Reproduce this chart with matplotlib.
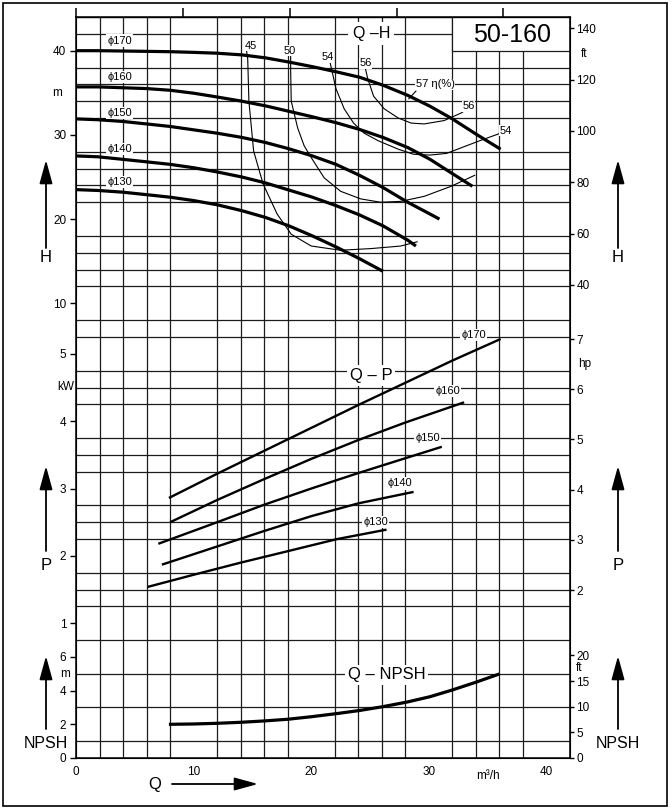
import numpy as np
import matplotlib
matplotlib.use('Agg')
import matplotlib.pyplot as plt
from matplotlib.patches import Rectangle, FancyArrowPatch

plt.rcParams['font.family'] = ['Liberation Sans', 'DejaVu Sans']

W, HT = 672, 811

# ---- data (Q in m3/h) ----
diameters = ['170', '160', '150', '140', '130']

# Q-H curves, H in m
qh_q = {
    '170': [0, 1.85, 3.95, 6.0, 8.0, 10.0, 12.0, 14.1, 16.1, 18.1, 20.1, 22.1, 24.1, 26.1, 28.2, 30.1, 32.0, 34.0, 36.1],
    '160': [0, 1.85, 3.95, 6.0, 8.0, 10.0, 12.0, 14.1, 16.1, 18.1, 20.1, 22.1, 24.1, 26.1, 28.2, 30.1, 32.0, 33.7],
    '150': [0, 1.85, 3.95, 6.0, 8.0, 10.0, 12.0, 14.1, 16.1, 18.1, 20.1, 22.1, 24.1, 26.1, 28.2, 30.1, 30.9],
    '140': [0, 1.85, 3.95, 6.0, 8.0, 10.0, 12.0, 14.1, 16.1, 18.1, 20.1, 22.1, 24.1, 26.1, 28.2, 28.9],
    '130': [0, 1.85, 3.95, 6.0, 8.0, 10.0, 12.0, 14.1, 16.1, 18.1, 20.1, 22.1, 24.1, 26.1],
}
qh_h = {
    '170': [40.0, 40.0, 39.96, 39.92, 39.88, 39.8, 39.7, 39.5, 39.15, 38.65, 38.1, 37.5, 36.85, 35.9, 34.7, 33.4, 31.9, 30.1, 28.3],
    '160': [35.7, 35.7, 35.6, 35.5, 35.3, 34.95, 34.5, 34.0, 33.45, 32.8, 32.15, 31.45, 30.65, 29.7, 28.5, 27.1, 25.4, 23.9],
    '150': [31.9, 31.8, 31.6, 31.3, 31.0, 30.6, 30.2, 29.7, 29.1, 28.35, 27.5, 26.5, 25.2, 23.75, 22.0, 20.6, 20.0],
    '140': [27.5, 27.4, 27.1, 26.8, 26.5, 26.1, 25.6, 25.0, 24.3, 23.45, 22.6, 21.6, 20.5, 19.2, 17.5, 16.8],
    '130': [23.5, 23.4, 23.2, 22.9, 22.6, 22.2, 21.7, 21.0, 20.2, 19.2, 18.0, 16.7, 15.3, 13.8],
}

# iso-efficiency lines (Q, H)
eff_45_q = [14.5, 14.6, 14.7, 15.1, 15.9, 17.1, 18.3, 20.0, 22.5, 25.1, 27.6, 29.0]
eff_45_h = [40.0, 39.0, 34.0, 28.1, 24.2, 20.6, 18.2, 16.8, 16.3, 16.5, 16.8, 17.3]
eff_50_q = [18.25, 18.25, 18.3, 18.85, 19.4, 20.0, 21.1, 22.5, 24.2, 25.9, 27.6, 29.6, 31.9, 33.9]
eff_50_h = [39.4, 37.6, 34.0, 30.8, 28.7, 27.3, 24.9, 23.3, 22.4, 22.0, 22.1, 22.7, 23.9, 25.2]
eff_54_q = [21.6, 22.1, 22.8, 23.6, 24.5, 25.7, 27.4, 28.7, 30.1, 31.5, 33.0, 34.5, 36.1]
eff_54_h = [38.6, 35.5, 33.1, 31.4, 30.2, 29.3, 28.3, 27.7, 27.6, 27.8, 28.6, 29.4, 30.2]
eff_56_q = [24.6, 24.8, 25.3, 26.2, 27.4, 28.5, 29.6, 31.3, 32.75, 33.4]
eff_56_h = [37.9, 36.7, 34.6, 33.1, 32.0, 31.4, 31.3, 31.7, 32.6, 33.2]

# Q-P curves, P in kW
qp_q = {
    '170': [7.9, 12, 16, 20, 24, 28, 32, 36.1],
    '160': [8.0, 12, 16, 20, 24, 28, 33.0],
    '150': [7.0, 12, 16, 20, 24, 28, 31.1],
    '140': [7.3, 12, 16, 20, 24, 28.7],
    '130': [6.1, 10, 14, 18, 22.2, 26.4],
}
qp_p = {
    '170': [2.86, 3.22, 3.56, 3.90, 4.24, 4.57, 4.90, 5.22],
    '160': [2.50, 2.83, 3.14, 3.44, 3.72, 3.98, 4.28],
    '150': [2.18, 2.50, 2.76, 3.00, 3.23, 3.45, 3.62],
    '140': [1.87, 2.14, 2.37, 2.59, 2.78, 2.95],
    '130': [1.54, 1.72, 1.90, 2.07, 2.25, 2.39],
}

# Q-NPSH, NPSH in m
npsh_q = [7.9, 10, 12, 14, 16, 18, 20, 22.2, 24.1, 26.1, 28.2, 30.1, 32.0, 34.0, 36.0]
npsh_m = [2.0, 2.02, 2.06, 2.12, 2.2, 2.3, 2.45, 2.64, 2.82, 3.05, 3.33, 3.64, 4.04, 4.5, 4.99]

# axis tick values
h_ticks = [40, 30, 20, 10]
p_ticks = [5, 4, 3, 2, 1]
npsh_ticks = [6, 4, 2, 0]
h_ft_ticks = [140, 120, 100, 80, 60, 40]
p_hp_ticks = [7, 6, 5, 4, 3, 2]
npsh_ft_ticks = [20, 15, 10, 5, 0]
q_ticks = [0, 10, 20, 30, 40]
gpm_ticks = [0, 40, 80, 120, 160]


# all three charts share one grid; one grid row = 2 m H = 0.25 kW = 1 m NPSH
def u_h(h):
    return 22 + np.asarray(h, dtype=float) / 2


def u_p(p):
    return 4 + 4 * np.asarray(p, dtype=float)


def u_n(n):
    return np.asarray(n, dtype=float)


def fx(px):
    return px / W


def fy(py):
    return 1 - py / HT


fig = plt.figure(figsize=(6.72, 8.11), dpi=100)
ax = fig.add_axes([fx(76), fy(758), (570 - 76) / W, (758 - 17) / HT])
ax.set_xlim(0, 42)
ax.set_ylim(0, 44)
ax.set_axisbelow(True)

# grid
ax.set_xticks(np.arange(0, 43, 2), minor=True)
ax.set_yticks(np.arange(0, 45, 1), minor=True)
ax.grid(which='minor', color='#1c1c1c', lw=0.9)
ax.tick_params(which='minor', length=0)
for s in ax.spines.values():
    s.set_linewidth(1.1)

# left ticks
left_pos = list(u_h(h_ticks)) + list(u_p(p_ticks)) + list(u_n(npsh_ticks))
left_lab = [str(v) for v in h_ticks + p_ticks + npsh_ticks]
ax.set_yticks(left_pos, labels=left_lab)
ax.tick_params(axis='y', which='major', length=4, width=1, pad=3, labelsize=8.5)
ax.set_xticks(q_ticks, labels=[str(v) for v in q_ticks])
ax.tick_params(axis='x', which='major', length=0, pad=6, labelsize=8.5)
ytr = ax.get_yaxis_transform()
ax.text(-0.028, u_h(35), 'm', transform=ytr, ha='right', va='center', fontsize=8.5)
ax.text(-0.004, u_p(4.5), 'kW', transform=ytr, ha='right', va='center', fontsize=8.5)
ax.text(-0.012, u_n(5), 'm', transform=ytr, ha='right', va='center', fontsize=8.5)
ax.text(35, -0.016, 'm³/h', transform=ax.get_xaxis_transform(), ha='center', va='top', fontsize=8.5)

# right ticks (ft / hp)
ax2 = ax.twinx()
ax2.set_ylim(0, 44)
right_pos = (list(u_h(np.array(h_ft_ticks) * 0.3048)) + list(u_p(np.array(p_hp_ticks) * 0.7457))
             + list(u_n(np.array(npsh_ft_ticks) * 0.3048)))
right_lab = [str(v) for v in h_ft_ticks + p_hp_ticks + npsh_ft_ticks]
ax2.set_yticks(right_pos, labels=right_lab)
ax2.tick_params(axis='y', length=3, width=1, pad=1.5, labelsize=8.5)
ytr2 = ax2.get_yaxis_transform()
ax2.text(1.022, u_h(130 * 0.3048), 'ft', transform=ytr2, ha='left', va='center', fontsize=8.5)
ax2.text(1.017, u_p(6.5 * 0.7457), 'hp', transform=ytr2, ha='left', va='center', fontsize=8.5)
ax2.text(1.012, u_n(17.5 * 0.3048), 'ft', transform=ytr2, ha='left', va='center', fontsize=8.5)

# top ticks (US gpm, unlabeled)
sec = ax.secondary_xaxis('top', functions=(lambda q: q / 0.2271, lambda g: g * 0.2271))
sec.set_xticks(gpm_ticks, labels=['' for _ in gpm_ticks])
sec.tick_params(length=6.5, width=1.1)

# model box
ax.add_patch(Rectangle((32, 42), 10, 2, facecolor='white', edgecolor='#1c1c1c', lw=0.9, zorder=1))
ax.text(37.1, 42.95, '50-160', ha='center', va='center', fontsize=18, zorder=5)

# Q-H
for d in diameters:
    ax.plot(qh_q[d], u_h(qh_h[d]), color='black', lw=2.3, solid_capstyle='butt', zorder=3)
h_label_y = {'170': 41.2, '160': 36.9, '150': 32.6, '140': 28.3, '130': 24.4}
for d in diameters:
    ax.text(3.7, u_h(h_label_y[d]), 'ϕ' + d, ha='center', va='center', fontsize=8,
            bbox=dict(fc='white', ec='none', pad=0.8), zorder=4)

for q, h in [(eff_45_q, eff_45_h), (eff_50_q, eff_50_h), (eff_54_q, eff_54_h), (eff_56_q, eff_56_h)]:
    ax.plot(q, u_h(h), color='black', lw=0.8, zorder=3)
ax.plot([28.3, 28.9], u_h([34.3, 35.2]), color='black', lw=0.8, zorder=3)
for q, h, s in [(14.85, 40.6, '45'), (18.2, 40.0, '50'), (21.4, 39.2, '54'), (24.6, 38.5, '56'),
                (33.4, 33.4, '56'), (36.5, 30.5, '54')]:
    ax.text(q, u_h(h), s, ha='center', va='center', fontsize=8,
            bbox=dict(fc='white', ec='none', pad=0.3), zorder=4)
ax.text(28.9, u_h(36.0), '57 η(%)', ha='left', va='center', fontsize=8,
        bbox=dict(fc='white', ec='none', pad=0.3), zorder=4)
ax.text(25.1, 43.0, 'Q –H', ha='center', va='center', fontsize=11.5,
        bbox=dict(fc='white', ec='none', pad=3), zorder=4)

# Q-P
for d in diameters:
    ax.plot(qp_q[d], u_p(qp_p[d]), color='black', lw=1.7, solid_capstyle='butt', zorder=3)
p_label_pos = {'170': (33.8, 25.1), '160': (31.6, 21.8), '150': (29.9, 19.0),
               '140': (27.5, 16.3), '130': (25.5, 14.0)}
for d in diameters:
    x, y = p_label_pos[d]
    ax.text(x, y, 'ϕ' + d, ha='center', va='center', fontsize=8,
            bbox=dict(fc='white', ec='none', pad=0.8), zorder=4)
ax.text(25.1, 22.7, 'Q – P', ha='center', va='center', fontsize=12,
        bbox=dict(fc='white', ec='none', pad=2), zorder=4)

# Q-NPSH
ax.plot(npsh_q, u_n(npsh_m), color='black', lw=2.3, solid_capstyle='butt', zorder=3)
ax.text(26.4, 4.93, 'Q – NPSH', ha='center', va='center', fontsize=12,
        bbox=dict(fc='white', ec='none', pad=2), zorder=4)


# side arrows and names
def arrow(x0, y0, x1, y1):
    fig.add_artist(FancyArrowPatch(
        (fx(x0), fy(y0)), (fx(x1), fy(y1)), transform=fig.transFigure,
        arrowstyle='-|>,head_length=0.8,head_width=0.22', mutation_scale=18,
        lw=1.3, color='black', shrinkA=0, shrinkB=0))


for x in (46, 618):
    arrow(x, 248, x, 160)
    arrow(x, 551, x, 466)
    arrow(x, 729, x, 656)
    fig.text(fx(x), fy(258), 'H', ha='center', va='center', fontsize=12)
    fig.text(fx(x), fy(566), 'P', ha='center', va='center', fontsize=12)
    fig.text(fx(x), fy(743), 'NPSH', ha='center', va='center', fontsize=11.5)
arrow(172, 784, 258, 784)
fig.text(fx(155), fy(784), 'Q', ha='center', va='center', fontsize=12)

# outer frame
fig.add_artist(Rectangle((fx(3), fy(806)), (667 - 3) / W, (806 - 3) / HT, transform=fig.transFigure,
                         fill=False, edgecolor='black', lw=1.2))

fig.savefig('out.png', dpi=100)
